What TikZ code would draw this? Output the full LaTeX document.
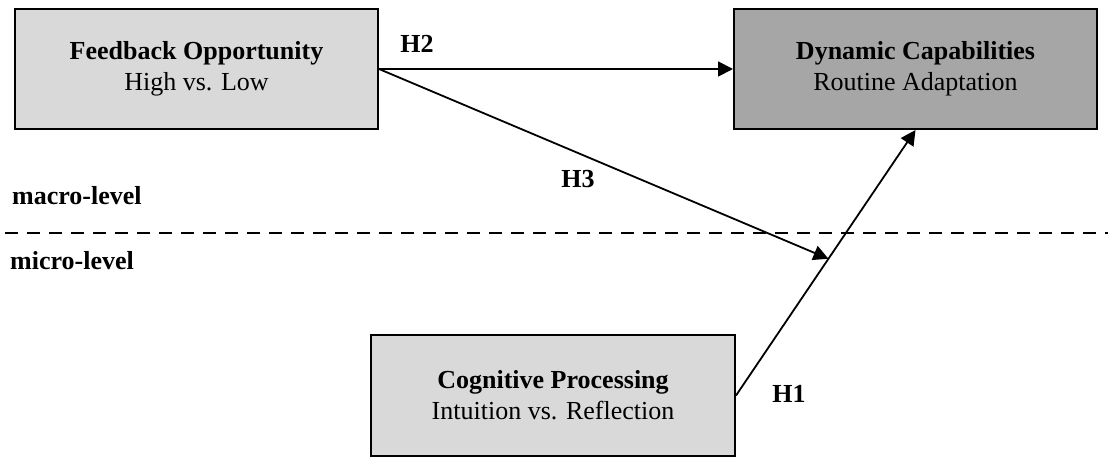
\documentclass[tikz,border=0pt]{standalone}
\usepackage{fontspec}
\setmainfont{Liberation Serif}
\usetikzlibrary{arrows.meta,calc}
\definecolor{lightbox}{HTML}{D9D9D9}
\definecolor{darkbox}{HTML}{A6A6A6}
\begin{document}
\begin{tikzpicture}[x=1pt,y=1pt,
  every node/.style={font=\fontsize{26}{31}\selectfont},
  varbox/.style={draw=black,line width=2pt,minimum width=363pt,minimum height=120pt,align=center,inner sep=0pt},
  hyp/.style={font=\fontsize{26}{31}\selectfont\bfseries,inner sep=0pt},
  lvl/.style={font=\fontsize{26}{31}\selectfont\bfseries,inner sep=0pt,anchor=base west},
  conn/.style={line width=1.8pt,-{Triangle[length=15pt,width=15pt]}}]
\useasboundingbox (0,0) rectangle (1108,457);
\node[varbox,fill=lightbox] (fb) at (196.5,388) {\textbf{Feedback Opportunity}\\High vs. Low};
\node[varbox,fill=darkbox] (dyn) at (915.5,388) {\textbf{Dynamic Capabilities}\\Routine Adaptation};
\node[varbox,fill=lightbox,minimum width=364pt,minimum height=121pt] (cog) at (553,61.5) {\textbf{Cognitive Processing}\\Intuition vs. Reflection};
\coordinate (dl) at (5,224);
\coordinate (dr) at (1108,224);
\draw[line width=1.8pt,dash pattern=on 13pt off 9pt] (dl) -- (dr);
\node[lvl] (macro) at (12,252) {macro-level};
\node[lvl] (micro) at (10,187) {micro-level};
\draw[conn] (fb.east) -- (dyn.west);
\draw[conn] (cog.east) -- (dyn.south);
\coordinate (mod) at ($(cog.east)!0.515!(dyn.south)$);
\draw[conn] (fb.east) -- (mod);
\node[hyp] (h2) at (417,413) {H2};
\node[hyp] (h3) at (578,278) {H3};
\node[hyp] (h1) at (789,63) {H1};
\end{tikzpicture}
\end{document}
